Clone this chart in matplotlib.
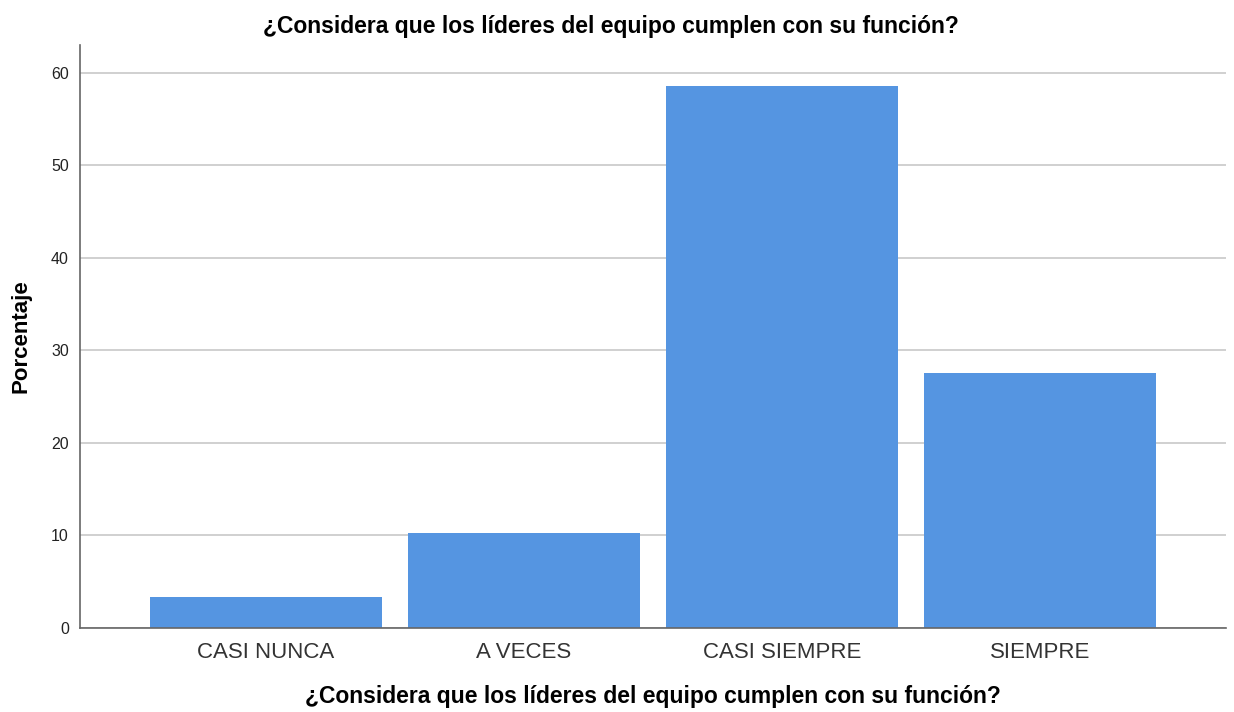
import matplotlib.pyplot as plt

categorias = ["CASI NUNCA", "A VECES", "CASI SIEMPRE", "SIEMPRE"]
porcentajes = [3.4, 10.3, 58.6, 27.6]
yticks = [0, 10, 20, 30, 40, 50, 60]
titulo = "¿Considera que los líderes del equipo cumplen con su función?"

plt.rcParams['font.family'] = ['Liberation Sans', 'DejaVu Sans']

fig = plt.figure(figsize=(12.34, 7.12), dpi=100)
ax = fig.add_axes([80/1234, 84/712, (1226-80)/1234, (628-45)/712])

ax.bar(range(len(porcentajes)), porcentajes, 0.9, color="#5595e1", zorder=2)
ax.set_xlim(-0.72, 3.72)
ax.set_ylim(0, 63)
ax.set_yticks(yticks)
ax.set_xticks(range(len(categorias)), categorias)
ax.grid(axis="y", color="#c8c8c8", linewidth=1.2, zorder=0)
ax.tick_params(length=0)
ax.tick_params(axis="x", labelsize=16, colors="#333333", pad=10)
ax.tick_params(axis="y", labelsize=11.5, colors="#222222", pad=8)
for s in ["top", "right"]:
    ax.spines[s].set_visible(False)
for s in ["left", "bottom"]:
    ax.spines[s].set_color("#666666")
    ax.spines[s].set_linewidth(1.2)

ax.set_ylabel("Porcentaje", fontsize=16, fontweight="bold", labelpad=14)
ax.set_xlabel(titulo, fontsize=16.5, fontweight="bold", labelpad=16)
fig.text(611/1234, 1 - 27/712, titulo, fontsize=16.5, fontweight="bold",
         ha="center", va="center")

fig.savefig("out.png", dpi=100)
